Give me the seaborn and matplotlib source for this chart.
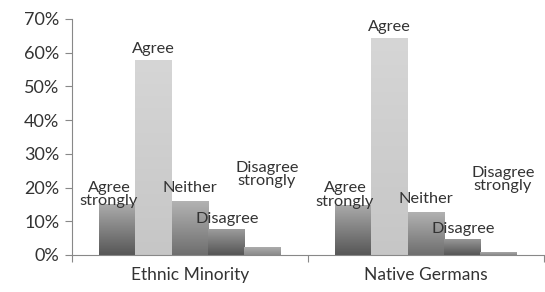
import numpy as np
import pandas as pd
import matplotlib
matplotlib.use('Agg')
import matplotlib.pyplot as plt
from matplotlib.colors import LinearSegmentedColormap
from matplotlib.ticker import PercentFormatter
import seaborn as sns

# Datos
grupos = ["Ethnic Minority", "Native Germans"]
respuestas = ["Agree strongly", "Agree", "Neither", "Disagree", "Disagree strongly"]
etiquetas = ["Agree\nstrongly", "Agree", "Neither", "Disagree", "Disagree\nstrongly"]
minoria = [15.1, 57.9, 16.0, 7.7, 2.4]
alemanes = [14.9, 64.4, 12.8, 4.8, 1.0]

df = pd.DataFrame({
    "grupo": np.repeat(grupos, len(respuestas)),
    "respuesta": respuestas * len(grupos),
    "valor": minoria + alemanes,
})

# degradado (abajo, arriba) por respuesta
degradados = {
    "Agree strongly": ("#575757", "#ababab"),
    "Agree": ("#c6c6c6", "#d6d6d6"),
    "Neither": ("#6e6e6e", "#b3b3b3"),
    "Disagree": ("#555555", "#9c9c9c"),
    "Disagree strongly": ("#8a8a8a", "#b0b0b0"),
}
# desplazamiento de las etiquetas (puntos)
offsets = {
    "Agree strongly": (-6, -3),
    "Agree": (0, 3),
    "Neither": (0, 4),
    "Disagree": (1, 2),
    "Disagree strongly": (3, 42),
}

sns.set_style("white")
plt.rcParams["font.family"] = ["Lato", "DejaVu Sans"]

fig = plt.figure(figsize=(5.45, 2.92), dpi=100)
ax = fig.add_axes([0.132, 0.127, 0.866, 0.808])

sns.barplot(data=df, x="grupo", y="valor", hue="respuesta", order=grupos,
            hue_order=respuestas, width=0.77, color="grey", ax=ax,
            legend=False, errorbar=None)

grad = np.linspace(0, 1, 256).reshape(-1, 1)
for cont, resp, etq in zip(ax.containers, respuestas, etiquetas):
    cmap = LinearSegmentedColormap.from_list(resp, degradados[resp])
    for bar in cont:
        x0, w, h = bar.get_x(), bar.get_width(), bar.get_height()
        bar.set_facecolor("none")
        bar.set_edgecolor("none")
        im = ax.imshow(grad, cmap=cmap, aspect="auto", origin="lower",
                       extent=[x0, x0 + w, 0, h], zorder=2)
        im.set_clip_path(bar)
        dx, dy = offsets[resp]
        ax.annotate(etq, (x0 + w / 2, h), xytext=(dx, dy),
                    textcoords="offset points", ha="center", va="bottom",
                    fontsize=11.8, color="#333333", linespacing=0.95, zorder=3)

ax.set_xlim(-0.5, 1.5)
ax.set_ylim(0, 70)
ax.set_yticks(range(0, 71, 10))
ax.yaxis.set_major_formatter(PercentFormatter(decimals=0))
ax.set_xlabel("")
ax.set_ylabel("")

ax.set_xticks([-0.5, 0.5, 1.5], minor=True)
ax.tick_params(axis="x", which="major", length=0, pad=9, labelsize=12.5,
               labelcolor="#333333")
ax.tick_params(axis="x", which="minor", length=5, color="#888888", width=0.8,
               direction="out", bottom=True)
ax.tick_params(axis="y", length=5, color="#888888", width=0.8,
               direction="out", left=True, labelsize=13, labelcolor="#333333",
               pad=4)

for lado in ["top", "right"]:
    ax.spines[lado].set_visible(False)
for lado in ["left", "bottom"]:
    ax.spines[lado].set_color("#888888")
    ax.spines[lado].set_linewidth(0.8)

fig.savefig("out.png", dpi=100)
plt.close(fig)
